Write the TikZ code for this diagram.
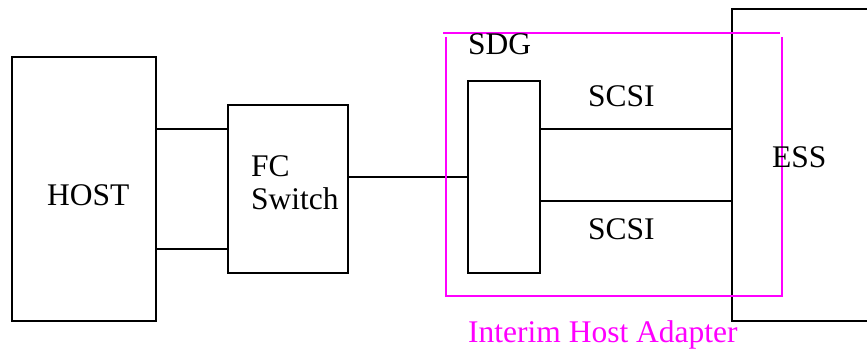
\documentclass[tikz,border=0pt]{standalone}
\usepackage{fontspec}
\setmainfont{Liberation Serif}
\usepackage{tikz}
\usetikzlibrary{calc,positioning}
\definecolor{adapter}{HTML}{FF00FF}

\begin{document}
\begin{tikzpicture}[x=1pt, y=-1pt,
  box/.style={draw, line width=2pt, rectangle, inner sep=0pt},
  wire/.style={line width=2pt},
  lbl/.style={anchor=base west, inner sep=0pt, font=\fontsize{31.5}{34}\selectfont}]
\useasboundingbox (0,0) rectangle (867,350);
% boxes
\node[box, minimum width=144pt, minimum height=264pt] (host) at (84,189) {};
\node[box, minimum width=120pt, minimum height=168pt] (fcsw) at (288,189) {};
\node[box, minimum width=72pt, minimum height=192pt] (sdg) at (504,177) {};
\node[box, minimum width=148pt, minimum height=312pt] (ess) at (806,165) {};
% links
\draw[wire] (host.east |- 0,129) -- (fcsw.west |- 0,129);
\draw[wire] (host.east |- 0,249) -- (fcsw.west |- 0,249);
\draw[wire] (fcsw.east |- 0,177) -- (sdg.west |- 0,177);
\draw[wire] (sdg.east |- 0,129) -- (ess.west |- 0,129);
\draw[wire] (sdg.east |- 0,201) -- (ess.west |- 0,201);
% interim host adapter frame
\draw[adapter, line width=1.8pt] (443,33) -- (780,33);
\draw[adapter, line width=1.8pt] (446,37) -- (446,296) -- (782,296) -- (782,37);
% labels
\node[lbl] (hostlbl) at (47,205) {HOST};
\node[lbl] (fclbl) at (251,176) {FC};
\node[lbl] (swlbl) at (251,209) {Switch};
\node[lbl] (sdglbl) at (468,55) {SDG};
\node[lbl] (scsia) at (588,107) {SCSI};
\node[lbl] (scsib) at (588,239) {SCSI};
\node[lbl] (esslbl) at (772,167) {ESS};
\node[lbl, text=adapter] (adlbl) at (468,342) {Interim Host Adapter};
\end{tikzpicture}
\end{document}
